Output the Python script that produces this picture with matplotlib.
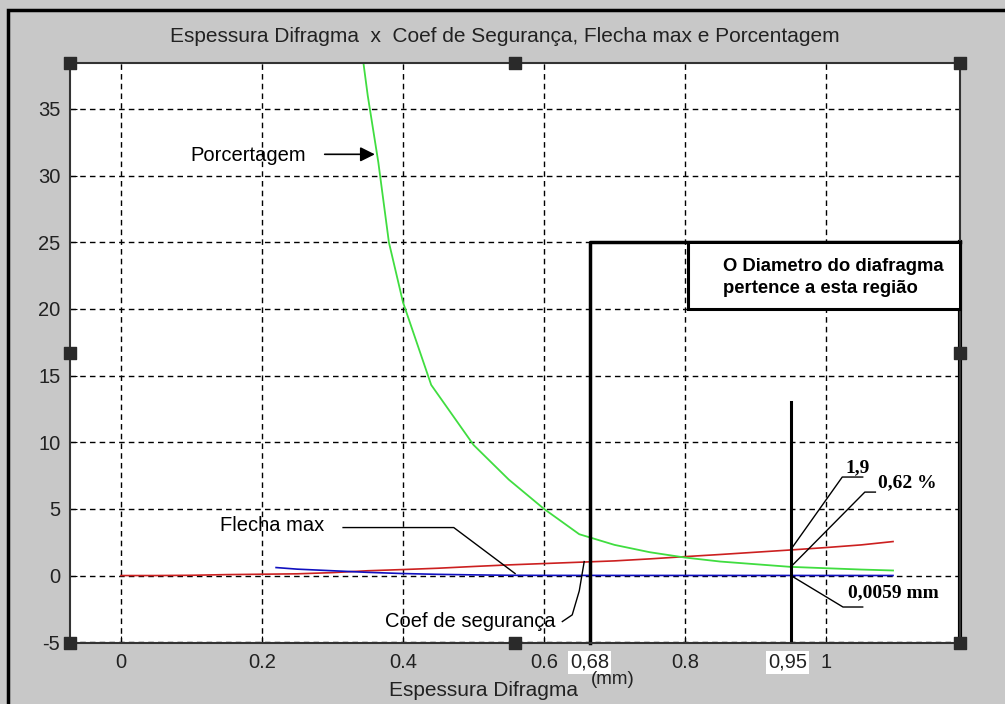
import matplotlib
matplotlib.use("Agg")
from matplotlib import pyplot as plt
from matplotlib.patches import Rectangle

plt.rcParams["axes.unicode_minus"] = False

# espessura (mm) e valores
x_coef = [0, 0.05, 0.1, 0.15, 0.2, 0.25, 0.3, 0.35, 0.4, 0.45, 0.5, 0.55,
          0.6, 0.65, 0.7, 0.75, 0.8, 0.85, 0.9, 0.95, 1.0, 1.05, 1.095]
coef = [0, 0, 0.02, 0.07, 0.1, 0.13, 0.22, 0.36, 0.45, 0.55, 0.68, 0.8,
        0.9, 1.0, 1.1, 1.25, 1.42, 1.58, 1.75, 1.92, 2.1, 2.3, 2.55]

x_flecha = [0.22, 0.25, 0.3, 0.35, 0.4, 0.45, 0.5, 0.55, 0.6, 0.7, 0.8,
            0.9, 0.95, 1.0, 1.095]
flecha = [0.6, 0.48, 0.36, 0.24, 0.15, 0.09, 0.05, 0.02, 0.012, 0.009,
          0.007, 0.0065, 0.0059, 0.005, 0.004]

x_porc = [0.335, 0.35, 0.365, 0.38, 0.4, 0.44, 0.5, 0.55, 0.6, 0.65, 0.7,
          0.75, 0.8, 0.85, 0.9, 0.95, 1.0, 1.05, 1.095]
porc = [42, 36, 31, 25, 20.5, 14.3, 9.8, 7.2, 5.0, 3.1, 2.3, 1.75, 1.35,
        1.05, 0.85, 0.65, 0.55, 0.45, 0.38]

xticks = [0, 0.2, 0.4, 0.6, 0.8, 1.0]
xtick_labels = ["0", "0.2", "0.4", "0.6", "0.8", "1"]
yticks = [-5, 0, 5, 10, 15, 20, 25, 30, 35]

# limites da regiao do diafragma
x_min_reg = 0.665
x_opt = 0.95
y_reg = 25

sans = "Liberation Sans"
serif = "Liberation Serif"
fs = 14.5

fig = plt.figure(figsize=(10.05, 7.04), dpi=100, facecolor="#c8c8c8")
fig.patches.append(Rectangle((8 / 1005, -0.1), 1.2, 1.1 - 11 / 704 + 0.001,
                             transform=fig.transFigure, fill=False,
                             edgecolor="black", lw=2.5))

ax = fig.add_axes([70 / 1005, 1 - 643 / 704, 890 / 1005, 580 / 704])
ax.set_xlim(-0.0723, 1.19)
ax.set_ylim(-5.06, 38.45)

ax.set_xticks(xticks)
ax.set_xticklabels(xtick_labels)
ax.set_yticks(yticks)
ax.tick_params(direction="in", length=5, color="black", labelsize=fs,
               pad=7)
for lab in ax.get_xticklabels() + ax.get_yticklabels():
    lab.set_family(sans)
    lab.set_color("#222222")
ax.grid(True, color="black", linestyle=(0, (4, 3)), lw=1)
for s in ax.spines.values():
    s.set_color("#333333")
    s.set_linewidth(1.5)

ax.plot(x_coef, coef, color="#cc2020", lw=1.2)
ax.plot(x_flecha, flecha, color="#1010c0", lw=1.2)
ax.plot(x_porc, porc, color="#40dd40", lw=1.3)

# regiao do diafragma
ax.plot([x_min_reg, x_min_reg, 1.19], [-5.06, y_reg, y_reg], color="black",
        lw=2.5, clip_on=False)
ax.plot([1.19, 1.19], [-5.06, y_reg], color="black", lw=3, clip_on=False)
ax.plot([x_opt, x_opt], [-5.06, 13], color="black", lw=2.2)
ax.add_patch(Rectangle((0.804, 20), 1.19 - 0.804, 5, facecolor="white",
                       edgecolor="black", lw=2.2, zorder=5, clip_on=False))
ax.text(0.854, 23.2, "O Diametro do diafragma", family=sans,
        fontweight="bold", fontsize=13.3, va="center", zorder=6)
ax.text(0.854, 21.55, "pertence a esta região", family=sans,
        fontweight="bold", fontsize=13.3, va="center", zorder=6)

# rotulos das curvas
ax.text(0.098, 31.5, "Porcertagem", family=sans, fontsize=fs,
        va="center")
ax.annotate("", xy=(0.364, 31.6), xytext=(0.285, 31.6),
            arrowprops=dict(arrowstyle="-|>", color="black", lw=1.2,
                            mutation_scale=22))

ax.text(0.14, 3.75, "Flecha max", family=sans, fontsize=fs, va="center")
ax.plot([0.315, 0.472, 0.559], [3.6, 3.6, 0.15], color="black", lw=1)

ax.text(0.375, -3.45, "Coef de segurança", family=sans, fontsize=fs,
        va="center")
ax.plot([0.626, 0.64, 0.65, 0.657], [-3.45, -2.95, -1.15, 1.05],
        color="black", lw=1)

ax.text(1.027, 8.06, "1,9", family=serif, fontweight="bold", fontsize=14,
        va="center")
ax.plot([x_opt, 1.023, 1.052], [1.95, 7.39, 7.39], color="black", lw=1)

ax.text(1.074, 6.94, "0,62 %", family=serif, fontweight="bold", fontsize=14,
        va="center")
ax.plot([x_opt, 1.055, 1.07], [0.65, 6.26, 6.26], color="black", lw=1)

ax.text(1.031, -1.31, "0,0059 mm", family=serif, fontweight="bold",
        fontsize=14, va="center")
ax.plot([x_opt, 1.024, 1.052], [0.0059, -2.36, -2.36], color="black", lw=1)

# marcas destacadas no eixo x
for xv, txt in [(x_min_reg, "0,68"), (x_opt - 0.005, "0,95")]:
    ax.text(xv, -0.017, txt, transform=ax.get_xaxis_transform(),
            family=sans, fontsize=fs, ha="center", va="top",
            color="#222222",
            bbox=dict(facecolor="white", edgecolor="none", pad=1.5))

# alcas de selecao
hx = [0, 0.5, 1, 0, 1, 0, 0.5, 1]
hy = [1, 1, 1, 0.5, 0.5, 0, 0, 0]
ax.scatter(hx, hy, marker="s", s=70, color="#2a2a2a",
           transform=ax.transAxes, clip_on=False, zorder=10)

fig.text(505 / 1005, 1 - 37 / 704,
         "Espessura Difragma  x  Coef de Segurança, Flecha max e Porcentagem",
         family=sans, fontsize=15, ha="center", va="center",
         color="#222222")
fig.text(389 / 1005, 1 - 690 / 704, "Espessura Difragma", family=sans,
         fontsize=15, ha="left", va="center", color="#222222")
fig.text(591 / 1005, 1 - 680 / 704, "(mm)", family=sans, fontsize=13.5,
         ha="left", va="center", color="#222222")

fig.savefig("out.png", dpi=100, facecolor=fig.get_facecolor())
